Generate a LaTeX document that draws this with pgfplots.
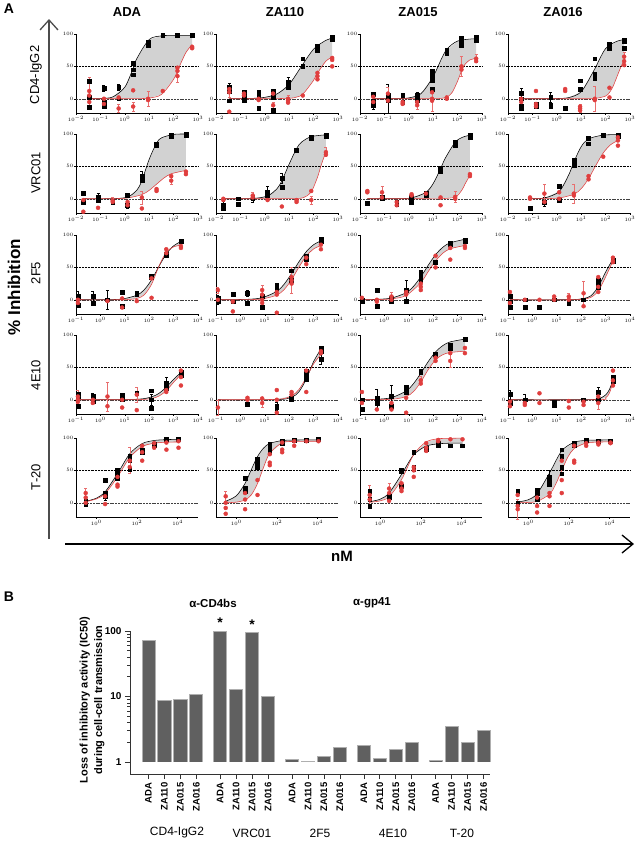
\documentclass[border=0pt]{standalone}
\usepackage{fontspec}
\setmainfont{Liberation Sans}
\usepackage{pgfplots}
\pgfplotsset{compat=1.18}
\usetikzlibrary{arrows.meta}

\definecolor{rd}{RGB}{224,62,62}
\definecolor{bargray}{RGB}{96,96,96}
\definecolor{baredge}{RGB}{175,175,175}

\pgfplotsset{
  pA/.style={scale only axis, width=122pt, height=79pt,
    ymin=-22, ymax=100, ytick={0,50,100},
    axis x line*=bottom, axis y line*=left,
    axis line style={line width=0.5pt},
    tick style={line width=0.4pt, black}, tick align=outside,
    major tick length=1.6pt, minor tick length=0.9pt,
    ticklabel style={font=\fontsize{4.5}{5}\selectfont, inner sep=1pt},
    clip=false},
  bc/.style={black, line width=0.55pt, smooth},
  rc/.style={rd, line width=0.55pt, smooth},
  sh/.style={fill=gray!35, draw=none},
  bk/.style={only marks, mark=square*, mark size=1.9pt, black,
    error bars/y dir=both, error bars/y explicit,
    error bars/error bar style={black, line width=0.45pt},
    error bars/error mark options={rotate=90, mark size=1.5pt, black, line width=0.45pt}},
  rk/.style={only marks, mark=*, mark size=2pt, rd,
    error bars/y dir=both, error bars/y explicit,
    error bars/error bar style={rd!75, line width=0.45pt},
    error bars/error mark options={rotate=90, mark size=1.5pt, rd!75, line width=0.45pt}},
  br/.style={fill=bargray, draw=baredge, line width=0.6pt},
}

% dotted line at 50, dashed line at 0
\newcommand{\reflines}{%
  \draw[black, densely dotted, line width=0.45pt] (axis description cs:0,0.5902) -- (axis description cs:1,0.5902);
  \draw[black!75, dash pattern=on 2pt off 0.8pt, line width=0.45pt] (axis description cs:0,0.1803) -- (axis description cs:1,0.1803);}

\begin{document}
\begin{tikzpicture}[x=1pt,y=-1pt]
\useasboundingbox (0,0) rectangle (637,844);

% ---------- panel A labels ----------
\node[font=\fontsize{14}{16}\selectfont\bfseries] at (9,9) {A};
\node[font=\fontsize{13}{15}\selectfont\bfseries] at (127,12) {ADA};
\node[font=\fontsize{13}{15}\selectfont\bfseries] at (285,12) {ZA110};
\node[font=\fontsize{13}{15}\selectfont\bfseries] at (418,12) {ZA015};
\node[font=\fontsize{13}{15}\selectfont\bfseries] at (563,12) {ZA016};
\node[rotate=90, font=\fontsize{13}{15}\selectfont] at (36,75) {CD4-IgG2};
\node[rotate=90, font=\fontsize{13}{15}\selectfont] at (36,173) {VRC01};
\node[rotate=90, font=\fontsize{13}{15}\selectfont] at (36,273) {2F5};
\node[rotate=90, font=\fontsize{13}{15}\selectfont] at (36,375) {4E10};
\node[rotate=90, font=\fontsize{13}{15}\selectfont] at (36,477) {T-20};
\node[rotate=90, font=\fontsize{17}{19}\selectfont\bfseries] at (14,287) {\% Inhibition};
\draw[black!70, line width=2pt, -{Straight Barb[length=10pt,width=18pt,line width=1.3pt]}] (49,539) -- (49,19);
\draw[black, line width=1.3pt, -{Straight Barb[length=11pt,width=18pt,line width=1.3pt]}] (65,544) -- (634,544);
\node[font=\fontsize{15}{17}\selectfont\bfseries] at (342,556) {nM};

% ================= row 1: CD4-IgG2 =================
\begin{axis}[pA, xmode=log, xmin=1e-2, xmax=1e3, at={(76pt,-113pt)}, anchor=south west]
\addplot[sh] coordinates {(0.035,0.02)(0.1,0.35)(0.316,2.7)(1,17.9)(2.2,47)(3.16,62.6)(10,91.5)(31.6,97.1)(100,97.9)(576,98)
  (576,84)(316,71)(178,51)(100,30)(31.6,6.6)(10,1.1)(3.16,0.2)(1,0.05)(0.035,0)};
\reflines
\addplot[bc] coordinates {(0.035,0.02)(0.1,0.35)(0.316,2.7)(1,17.9)(2.2,47)(3.16,62.6)(10,91.5)(31.6,97.1)(100,97.9)(576,98)};
\addplot[rc] coordinates {(0.035,0)(1,0.05)(3.16,0.2)(10,1.1)(31.6,6.6)(100,30)(178,51)(316,71)(576,84)};
\addplot[bk] coordinates {(0.035,27)(0.035,2)(0.035,-13)(0.14,16)+-(0,5)(0.14,-5)(0.14,-12)(0.56,18)+-(0,5)(0.56,0)(2.2,55)(2.2,45)(2.2,37)(9,87)(9,83)(36,98)(144,98)(576,98)};
\addplot[rk] coordinates {(0.035,12)+-(0,22)(0.035,5)(0.035,-5)(0.14,0)(0.14,-8)(0.56,2)(0.56,-15)+-(0,6)(2.2,13)(2.2,-12)+-(0,7)(9,0)+-(0,11)(9,-2)(36,12)(144,48)(144,35)+-(0,10)(144,43)(576,80)(576,78)};
\end{axis}

\begin{axis}[pA, xmode=log, xmin=1e-2, xmax=1e3, at={(216pt,-113pt)}, anchor=south west]
\addplot[sh] coordinates {(0.035,0.06)(0.316,0.64)(1,2.2)(3.16,7.5)(10,22.3)(31.6,49.9)(100,76.6)(316,90.2)(576,93.4)
  (576,64.2)(316,57.9)(144,39.5)(100,28.5)(36,7)(20,2.6)(10,0.77)(1,0.05)(0.035,0)};
\reflines
\addplot[bc] coordinates {(0.035,0.06)(0.316,0.64)(1,2.2)(3.16,7.5)(10,22.3)(31.6,49.9)(100,76.6)(316,90.2)(576,93.4)};
\addplot[rc] coordinates {(0.035,0)(1,0.05)(10,0.77)(20,2.6)(36,7)(100,28.5)(144,39.5)(316,57.9)(576,64.2)};
\addplot[bk] coordinates {(0.035,18)+-(0,6)(0.035,12)(0.035,-3)(0.14,10)(0.14,5)(0.14,-2)(0.56,10)(0.56,3)(0.56,-15)(2.2,12)(2.2,2)(2.2,-18)(9,25)+-(0,8)(9,18)(36,62)(36,50)(144,82)(144,75)(576,95)(576,92)};
\addplot[rk] coordinates {(0.035,15)(0.035,10)+-(0,8)(0.035,-20)(0.14,8)(0.14,5)(0.56,0)(0.56,-2)(2.2,8)(2.2,-10)+-(0,5)(9,-3)(9,-6)(9,0)+-(0,6)(36,5)(144,40)(144,35)(144,30)(576,63)(576,60)(576,50)};
\end{axis}

\begin{axis}[pA, xmode=log, xmin=1e-2, xmax=1e3, at={(360pt,-113pt)}, anchor=south west]
\addplot[sh] coordinates {(0.035,0)(0.316,0.2)(1,1.35)(3.16,7.9)(10,34.3)(31.6,73.2)(100,89.1)(576,92.8)
  (576,62.4)(316,59.9)(200,53)(144,42.9)(100,27.3)(60,9.8)(36,2.6)(20,0.5)(10,0.1)(1,0)(0.035,0)};
\reflines
\addplot[bc] coordinates {(0.035,0)(0.316,0.2)(1,1.35)(3.16,7.9)(10,34.3)(31.6,73.2)(100,89.1)(576,92.8)};
\addplot[rc] coordinates {(0.035,0)(1,0)(10,0.1)(20,0.5)(36,2.6)(60,9.8)(100,27.3)(144,42.9)(200,53)(316,59.9)(576,62.4)};
\addplot[bk] coordinates {(0.035,7)(0.035,-3)(0.035,-10)+-(0,6)(0.14,5)(0.14,-2)(0.14,0)+-(0,22)(0.56,5)(0.56,-5)(2.2,5)+-(0,5)(2.2,-3)(2.2,0)(9,42)(9,35)(9,28)(9,15)(36,75)(36,70)(144,93)(144,83)(144,90)(576,95)(576,90)};
\addplot[rk] coordinates {(0.035,3)(0.035,-5)(0.14,8)+-(0,10)(0.14,-3)(0.56,-5)(0.56,-8)(2.2,-5)(2.2,-10)+-(0,6)(9,10)(9,0)(9,-3)+-(0,17)(36,2)(36,0)(144,50)+-(0,15)(144,45)(576,62)+-(0,6)(576,58)};
\end{axis}

\begin{axis}[pA, xmode=log, xmin=1e-2, xmax=1e3, at={(508pt,-113pt)}, anchor=south west]
\addplot[sh] coordinates {(0.035,0)(0.316,0.04)(1,0.3)(3.16,1.9)(10,10.9)(31.6,42.2)(100,77.6)(316,89.3)(576,91)
  (576,58.5)(450,51.4)(316,37.3)(200,18.6)(144,9.7)(100,4.2)(36,0.35)(10,0.03)(0.035,0)};
\reflines
\addplot[bc] coordinates {(0.035,0)(0.316,0.04)(1,0.3)(3.16,1.9)(10,10.9)(31.6,42.2)(100,77.6)(316,89.3)(576,91)};
\addplot[rc] coordinates {(0.035,0)(10,0.03)(36,0.35)(100,4.2)(144,9.7)(200,18.6)(316,37.3)(450,51.4)(576,58.5)};
\addplot[bk] coordinates {(0.035,8)+-(0,8)(0.035,0)(0.035,-12)(0.035,-15)(0.14,-8)(0.14,-12)(0.14,-10)(0.56,2)+-(0,8)(0.56,-10)(0.56,-12)(2.2,-14)(9,28)(9,15)(36,62)(36,38)(36,32)(144,85)(144,80)(144,78)(576,90)(576,88)(576,78)};
\addplot[rk] coordinates {(0.035,0)(0.035,-5)(0.14,12)(0.14,-8)(0.14,-12)(2.2,15)(2.2,12)(9,-12)(9,-15)+-(0,6)(9,-18)(36,0)+-(0,20)(36,-2)(144,17)(144,2)(576,65)+-(0,7)(576,58)(576,52)};
\end{axis}

% ================= row 2: VRC01 =================
\begin{axis}[pA, xmode=log, xmin=1e-2, xmax=1e3, at={(76pt,-213pt)}, anchor=south west]
\addplot[sh] coordinates {(0.02,0)(0.32,0.16)(1.3,2.6)(3.16,13.5)(5,28)(10,61)(20,86)(31.6,94)(100,99.4)(320,100)
  (320,43.8)(80,38.6)(40,32)(20,22.5)(10,13)(5,6.4)(1.3,1.25)(0.32,0.2)(0.02,0)};
\reflines
\addplot[bc] coordinates {(0.02,0)(0.32,0.16)(1.3,2.6)(3.16,13.5)(5,28)(10,61)(20,86)(31.6,94)(100,99.4)(320,100)};
\addplot[rc] coordinates {(0.02,0)(0.32,0.2)(1.3,1.25)(5,6.4)(10,13)(20,22.5)(40,32)(80,38.6)(320,43.8)};
\addplot[bk] coordinates {(0.02,8)(0.02,-5)(0.08,3)+-(0,5)(0.08,-2)(0.08,0)(0.32,-3)(0.32,-5)(1.3,5)(1.3,-10)+-(0,5)(5,35)+-(0,8)(5,28)(20,85)(20,82)(80,98)(80,97)(320,100)(320,98)};
\addplot[rk] coordinates {(0.02,-2)(0.02,-20)(0.08,-14)(0.32,-3)+-(0,6)(0.32,-5)(1.3,-5)(1.3,-10)(5,2)+-(0,10)(5,-15)(20,15)(20,12)(80,35)(80,28)+-(0,6)(320,42)(320,38)};
\end{axis}

\begin{axis}[pA, xmode=log, xmin=1e-2, xmax=1e3, at={(216pt,-213pt)}, anchor=south west]
\addplot[sh] coordinates {(0.02,0)(0.32,0.5)(1.3,4.3)(3.16,15.6)(5,27.8)(10,53.7)(20,77.4)(31.6,87.3)(80,96)(320,98.7)
  (320,72.8)(200,50.9)(150,34.9)(80,10.5)(40,2)(20,0.37)(5,0.05)(0.02,0)};
\reflines
\addplot[bc] coordinates {(0.02,0)(0.32,0.5)(1.3,4.3)(3.16,15.6)(5,27.8)(10,53.7)(20,77.4)(31.6,87.3)(80,96)(320,98.7)};
\addplot[rc] coordinates {(0.02,0)(5,0.05)(20,0.37)(40,2)(80,10.5)(150,34.9)(200,50.9)(320,72.8)};
\addplot[bk] coordinates {(0.02,-10)+-(0,6)(0.02,-15)(0.08,0)(0.08,-9)(0.32,3)(0.32,0)+-(0,6)(1.3,10)+-(0,10)(1.3,5)(5,32)+-(0,8)(5,18)(20,75)(80,95)(80,93)(320,98)(320,97)};
\addplot[rk] coordinates {(0.02,0)(0.02,-2)(0.32,5)+-(0,5)(0.32,2)(1.3,-2)(5,-12)(20,-2)(20,-5)(80,12)(80,-2)+-(0,6)(320,72)+-(0,7)(320,68)};
\end{axis}

\begin{axis}[pA, xmode=log, xmin=1e-2, xmax=1e3, at={(360pt,-213pt)}, anchor=south west]
\addplot[sh] coordinates {(0.02,0)(0.32,0.17)(1.3,1.4)(5,9.8)(10,23.5)(20,46.5)(31.6,63)(80,87.4)(160,95)(320,98.2)
  (320,36.2)(200,22.5)(150,13.4)(80,2.7)(20,0.05)(5,0)(0.02,0)};
\reflines
\addplot[bc] coordinates {(0.02,0)(0.32,0.17)(1.3,1.4)(5,9.8)(10,23.5)(20,46.5)(31.6,63)(80,87.4)(160,95)(320,98.2)};
\addplot[rc] coordinates {(0.02,0)(5,0)(20,0.05)(80,2.7)(150,13.4)(200,22.5)(320,36.2)};
\addplot[bk] coordinates {(0.02,-7)(0.08,2)(0.08,0)(0.32,-5)(0.32,-8)(1.3,3)(1.3,-5)(5,8)(5,5)(20,48)(20,42)(80,88)(80,82)(320,98)(320,95)};
\addplot[rk] coordinates {(0.02,12)(0.02,10)(0.08,10)+-(0,10)(0.08,2)(0.32,-5)(0.32,-10)(1.3,7)(1.3,5)(5,8)(20,2)(20,-10)(80,3)+-(0,8)(80,0)(320,38)(320,35)};
\end{axis}

\begin{axis}[pA, xmode=log, xmin=1e-2, xmax=1e3, at={(508pt,-213pt)}, anchor=south west]
\addplot[sh] coordinates {(0.08,0.1)(0.31,1.2)(1.25,11.2)(3.16,37.8)(5,56.8)(10,80.5)(20,92.5)(80,98.3)(320,99)
  (320,90)(160,83.4)(80,70.8)(40,51.6)(20,31)(10,15.6)(5,7)(1.25,1.2)(0.31,0.2)(0.08,0)};
\reflines
\addplot[bc] coordinates {(0.08,0.1)(0.31,1.2)(1.25,11.2)(3.16,37.8)(5,56.8)(10,80.5)(20,92.5)(80,98.3)(320,99)};
\addplot[rc] coordinates {(0.08,0)(0.31,0.2)(1.25,1.2)(5,7)(10,15.6)(20,31)(40,51.6)(80,70.8)(160,83.4)(320,90)};
\addplot[bk] coordinates {(0.08,-15)(0.31,-5)+-(0,7)(1.25,20)(1.25,-2)(5,60)(5,52)(20,93)(20,85)(80,98)(320,98)(320,97)};
\addplot[rk] coordinates {(0.08,0)(0.08,2)(0.31,8)+-(0,14)(0.31,-5)(1.25,10)(1.25,0)(5,8)+-(0,15)(5,5)(20,35)(20,30)(80,65)(320,95)(320,90)(320,82)};
\end{axis}

% ================= row 3: 2F5 =================
\begin{axis}[pA, xmode=log, xmin=1e-1, xmax=1e4, at={(76pt,-314pt)}, anchor=south west]
\addplot[sh] coordinates {(0.12,0)(1.95,0.2)(7.8,1.2)(31,6.9)(62,15.3)(125,30.7)(250,51.4)(500,70.7)(1000,83.3)(2000,89.9)
  (2000,84.2)(1000,81.7)(500,73.3)(250,51.8)(125,23.9)(62,7.5)(31,2)(7.8,0.1)(0.12,0)};
\reflines
\addplot[bc] coordinates {(0.12,0)(1.95,0.2)(7.8,1.2)(31,6.9)(62,15.3)(125,30.7)(250,51.4)(500,70.7)(1000,83.3)(2000,89.9)};
\addplot[rc] coordinates {(0.12,0)(7.8,0.1)(31,2)(62,7.5)(125,23.9)(250,51.8)(500,73.3)(1000,81.7)(2000,84.2)};
\addplot[bk] coordinates {(0.12,5)+-(0,8)(0.12,-8)(0.49,5)+-(0,8)(0.49,-5)(1.95,0)+-(0,15)(7.8,12)(7.8,-10)(31,10)(31,8)(125,35)(125,37)(500,70)(500,68)(2000,90)};
\addplot[rk] coordinates {(0.12,0)(0.12,-5)(1.95,-2)(7.8,2)(7.8,-12)(31,-2)(125,33)(125,3)(500,78)(500,72)(2000,83)(2000,80)};
\end{axis}

\begin{axis}[pA, xmode=log, xmin=1e-1, xmax=1e4, at={(216pt,-314pt)}, anchor=south west]
\addplot[sh] coordinates {(0.12,0)(1.95,0.7)(7.8,3.2)(31,12.9)(62,24)(125,40.4)(250,58.6)(500,74.3)(1000,85)(2000,91)
  (2000,83.8)(1000,78.4)(500,67.5)(250,50.3)(125,31)(62,15.7)(31,7.2)(7.8,1.3)(1.95,0.2)(0.12,0)};
\reflines
\addplot[bc] coordinates {(0.12,0)(1.95,0.7)(7.8,3.2)(31,12.9)(62,24)(125,40.4)(250,58.6)(500,74.3)(1000,85)(2000,91)};
\addplot[rc] coordinates {(0.12,0)(1.95,0.2)(7.8,1.3)(31,7.2)(62,15.7)(125,31)(250,50.3)(500,67.5)(1000,78.4)(2000,83.8)};
\addplot[bk] coordinates {(0.12,3)(0.12,0)+-(0,7)(0.12,-2)(0.49,8)(0.49,-3)(1.95,10)+-(0,5)(1.95,-5)(7.8,5)(7.8,-12)(31,22)(31,18)(125,45)(125,30)(500,68)(500,62)(2000,93)(2000,90)};
\addplot[rk] coordinates {(0.12,15)+-(0,5)(0.12,0)(0.49,-3)(0.49,-18)(7.8,15)+-(0,8)(7.8,8)(7.8,0)(7.8,-5)(31,12)(31,8)(31,-20)(125,35)(125,30)+-(0,20)(125,25)(500,65)(500,55)(2000,85)(2000,78)};
\end{axis}

\begin{axis}[pA, xmode=log, xmin=1e-1, xmax=1e4, at={(360pt,-314pt)}, anchor=south west]
\addplot[sh] coordinates {(0.12,0.05)(0.49,0.6)(1.95,2.6)(7.8,10.9)(15.6,20.7)(31,35.3)(62,53.1)(125,69.6)(250,81.2)(500,88)(2000,93.4)
  (2000,83.8)(500,78.8)(250,72)(125,60)(62,43.3)(31,26.5)(7.8,6.7)(1.95,1.4)(0.49,0.27)(0.12,0)};
\reflines
\addplot[bc] coordinates {(0.12,0.05)(0.49,0.6)(1.95,2.6)(7.8,10.9)(15.6,20.7)(31,35.3)(62,53.1)(125,69.6)(250,81.2)(500,88)(2000,93.4)};
\addplot[rc] coordinates {(0.12,0)(0.49,0.27)(1.95,1.4)(7.8,6.7)(31,26.5)(62,43.3)(125,60)(250,72)(500,78.8)(2000,83.8)};
\addplot[bk] coordinates {(0.12,0)(0.12,-3)(0.49,15)(0.49,-10)(1.95,2)(1.95,-3)(7.8,15)+-(0,15)(7.8,-2)(31,42)(31,38)(31,30)(125,58)(500,88)(500,85)(2000,92)(2000,90)};
\addplot[rk] coordinates {(0.12,3)(0.49,0)(0.49,-3)(1.95,5)+-(0,6)(1.95,0)(7.8,12)(7.8,8)(31,25)(31,20)(31,15)(125,68)(125,50)(500,80)(500,62)(2000,83)(2000,80)};
\end{axis}

\begin{axis}[pA, xmode=log, xmin=1e-1, xmax=1e4, at={(508pt,-314pt)}, anchor=south west]
\addplot[sh] coordinates {(0.12,0)(31,0.1)(125,1.9)(250,6.2)(500,20)(1000,42.7)(2000,63)
  (2000,59.9)(1000,35.3)(500,13.4)(250,3.8)(125,1)(31,0)(0.12,0)};
\reflines
\addplot[bc] coordinates {(0.12,0)(31,0.1)(125,1.9)(250,6.2)(500,20)(1000,42.7)(2000,63)};
\addplot[rc] coordinates {(0.12,0)(31,0)(125,1)(250,3.8)(500,13.4)(1000,35.3)(2000,59.9)};
\addplot[bk] coordinates {(0.12,5)(0.12,-3)(0.12,-12)(0.49,0)(0.49,-12)(1.95,-12)(7.8,0)(31,-3)(31,-5)(125,0)(500,30)(500,25)(500,20)(2000,62)(2000,60)};
\addplot[rk] coordinates {(0.12,12)(0.12,-5)(0.49,0)(1.95,0)(7.8,5)(7.8,0)(31,5)+-(0,5)(31,0)(125,10)+-(0,18)(125,-10)(500,35)(500,20)(500,12)(2000,65)(2000,60)(2000,58)};
\end{axis}

% ================= row 4: 4E10 =================
\begin{axis}[pA, xmode=log, xmin=1e-1, xmax=1e4, at={(76pt,-414pt)}, anchor=south west]
\addplot[sh] coordinates {(0.12,0)(31,0.8)(125,4.5)(250,9.9)(500,19.4)(1000,31.5)(2000,42.2)
  (2000,39)(1000,27)(500,14)(250,5.7)(125,2)(31,0.2)(0.12,0)};
\reflines
\addplot[bc] coordinates {(0.12,0)(31,0.8)(125,4.5)(250,9.9)(500,19.4)(1000,31.5)(2000,42.2)};
\addplot[rc] coordinates {(0.12,0)(31,0.2)(125,2)(250,5.7)(500,14)(1000,27)(2000,39)};
\addplot[bk] coordinates {(0.12,8)(0.12,5)(0.12,-10)(0.49,5)+-(0,5)(0.49,-3)(7.8,7)(7.8,0)(31,10)(125,14)(125,0)+-(0,8)(125,-13)(500,25)+-(0,10)(500,18)(2000,42)(2000,38)};
\addplot[rk] coordinates {(0.12,5)+-(0,10)(0.12,0)(0.12,-3)(0.49,0)(0.49,-5)(1.95,5)+-(0,22)(1.95,-10)(7.8,0)(7.8,-12)(31,8)+-(0,12)(31,-16)(500,15)(500,12)(2000,45)(2000,35)(2000,22)};
\end{axis}

\begin{axis}[pA, xmode=log, xmin=1e-1, xmax=1e4, at={(216pt,-414pt)}, anchor=south west]
\addplot[sh] coordinates {(0.12,0)(31,0.1)(125,3.9)(250,12.2)(500,31.8)(1000,59)(2000,78.2)
  (2000,69.8)(1000,55.5)(500,34.2)(250,15.8)(125,6)(31,0.7)(0.12,0)};
\reflines
\addplot[bc] coordinates {(0.12,0)(31,0.1)(125,3.9)(250,12.2)(500,31.8)(1000,59)(2000,78.2)};
\addplot[rc] coordinates {(0.12,0)(31,0.7)(125,6)(250,15.8)(500,34.2)(1000,55.5)(2000,69.8)};
\addplot[bk] coordinates {(1.95,-7)(31,-10)+-(0,6)(31,-12)(125,2)(125,0)(500,45)(500,40)(500,32)(2000,80)(2000,75)(2000,63)+-(0,8)};
\addplot[rk] coordinates {(0.12,-12)+-(0,12)(1.95,3)(1.95,0)(7.8,2)(7.8,-5)+-(0,6)(31,15)(31,0)(31,-20)(125,12)(125,8)(500,45)(500,12)(2000,75)(2000,72)};
\end{axis}

\begin{axis}[pA, xmode=log, xmin=1e-1, xmax=1e4, at={(360pt,-414pt)}, anchor=south west]
\addplot[sh] coordinates {(0.12,0.1)(0.49,0.7)(1.95,3.3)(7.8,13.5)(15.6,24.9)(31,40.9)(62,58.8)(125,73.9)(250,83.8)(500,89.4)(2000,93.7)
  (2000,75)(500,73)(250,69.7)(125,61.7)(62,46.3)(31,27.3)(15.6,12.7)(7.8,5)(1.95,0.7)(0.12,0)};
\reflines
\addplot[bc] coordinates {(0.12,0.1)(0.49,0.7)(1.95,3.3)(7.8,13.5)(15.6,24.9)(31,40.9)(62,58.8)(125,73.9)(250,83.8)(500,89.4)(2000,93.7)};
\addplot[rc] coordinates {(0.12,0)(1.95,0.7)(7.8,5)(15.6,12.7)(31,27.3)(62,46.3)(125,61.7)(250,69.7)(500,73)(2000,75)};
\addplot[bk] coordinates {(0.12,0)(0.12,-15)(0.49,2)+-(0,15)(0.49,-5)(1.95,5)+-(0,18)(1.95,-10)(7.8,20)(7.8,12)(31,45)(31,42)(125,70)(500,85)(500,80)(2000,93)};
\addplot[rk] coordinates {(0.12,12)(0.12,-5)(0.49,-15)(1.95,-5)(1.95,-15)(7.8,3)(7.8,-20)(31,30)+-(0,6)(31,25)(125,65)(125,60)(500,72)(500,60)+-(0,10)(2000,80)(2000,72)};
\end{axis}

\begin{axis}[pA, xmode=log, xmin=1e-1, xmax=1e4, at={(508pt,-414pt)}, anchor=south west]
\addplot[sh] coordinates {(0.12,0)(125,0.1)(500,1.4)(1000,7.4)(1400,15.2)(2000,29.1)
  (2000,29)(1700,18.4)(1400,9.6)(1000,2.8)(500,0.1)(0.12,0)};
\reflines
\addplot[bc] coordinates {(0.12,0)(125,0.1)(500,1.4)(1000,7.4)(1400,15.2)(2000,29.1)};
\addplot[rc] coordinates {(0.12,0)(500,0.1)(1000,2.8)(1400,9.6)(1700,18.4)(2000,29)};
\addplot[bk] coordinates {(0.12,8)+-(0,7)(0.12,-5)(0.49,0)+-(0,8)(7.8,-3)(7.8,-8)(125,0)(500,12)+-(0,8)(500,0)(2000,35)(2000,28)};
\addplot[rk] coordinates {(0.12,-3)(0.12,-10)(0.49,-5)(0.49,-8)(1.95,10)(1.95,-5)(31,-2)(31,-12)(125,-3)(125,-8)(500,5)(500,-5)+-(0,10)(2000,45)(2000,30)(2000,22)};
\end{axis}

% ================= row 5: T-20 =================
\begin{axis}[pA, xmode=log, xmin=1e-1, xmax=1e5, at={(76pt,-517pt)}, anchor=south west]
\addplot[sh] coordinates {(0.3,2.2)(1,7)(2.7,16.9)(11,45)(44,75.7)(180,91.4)(700,96.2)(2800,97.5)(11000,98)
  (11000,93.9)(2800,93.5)(700,92)(180,86.8)(44,70.1)(11,39.8)(2.7,14.3)(1,5.9)(0.3,1.8)};
\reflines
\addplot[bc] coordinates {(0.3,2.2)(1,7)(2.7,16.9)(11,45)(44,75.7)(180,91.4)(700,96.2)(2800,97.5)(11000,98)};
\addplot[rc] coordinates {(0.3,1.8)(1,5.9)(2.7,14.3)(11,39.8)(44,70.1)(180,86.8)(700,92)(2800,93.5)(11000,93.9)};
\addplot[bk] coordinates {(0.3,3)(0.3,0)(0.3,-2)(2.7,35)(2.7,15)(2.7,10)+-(0,6)(11,50)(11,45)(11,38)(44,72)(44,65)(44,52)(180,82)(180,78)(700,90)(700,88)(2800,98)(11000,98)};
\addplot[rk] coordinates {(0.3,15)+-(0,7)(0.3,8)(0.3,0)(2.7,10)(2.7,-2)(11,40)(11,28)(11,25)(44,65)+-(0,20)(44,55)(180,88)(180,78)(180,65)(700,92)(700,85)(2800,93)(2800,82)(11000,95)(11000,85)};
\end{axis}

\begin{axis}[pA, xmode=log, xmin=1e-1, xmax=1e5, at={(216pt,-517pt)}, anchor=south west]
\addplot[sh] coordinates {(0.3,2.4)(1,10.7)(2.7,30)(5.5,51.5)(11,71.4)(22,84.6)(44,91.6)(180,96.1)(700,96.9)(11000,97)
  (11000,95)(700,94.7)(180,92.7)(44,76.6)(22,55)(11,29.7)(5.5,12.4)(2.7,4.4)(1,0.9)(0.3,0.14)};
\reflines
\addplot[bc] coordinates {(0.3,2.4)(1,10.7)(2.7,30)(5.5,51.5)(11,71.4)(22,84.6)(44,91.6)(180,96.1)(700,96.9)(11000,97)};
\addplot[rc] coordinates {(0.3,0.14)(1,0.9)(2.7,4.4)(5.5,12.4)(11,29.7)(22,55)(44,76.6)(180,92.7)(700,94.7)(11000,95)};
\addplot[bk] coordinates {(2.7,38)(2.7,22)(2.7,18)(11,68)(11,62)+-(0,8)(11,55)(44,90)(44,85)(44,78)(180,95)(180,92)(700,97)(2800,97)(11000,98)};
\addplot[rk] coordinates {(0.3,10)+-(0,8)(0.3,0)(0.3,-8)(0.3,-17)(2.7,15)(2.7,5)(2.7,-10)(11,35)(11,12)(44,75)(44,62)(44,58)(180,93)(180,82)(180,78)(700,95)(700,88)(2800,95)(11000,95)};
\end{axis}

\begin{axis}[pA, xmode=log, xmin=1e-1, xmax=1e5, at={(360pt,-517pt)}, anchor=south west]
\addplot[sh] coordinates {(0.3,1.6)(1,5.6)(2.7,14.9)(11,43.8)(44,74.2)(180,87.5)(700,91)(2800,92)(11000,92)
  (11000,99.8)(2800,99.5)(700,98.8)(180,94)(44,74.5)(11,35.6)(2.7,9.3)(1,3)(0.3,0.7)};
\reflines
\addplot[bc] coordinates {(0.3,1.6)(1,5.6)(2.7,14.9)(11,43.8)(44,74.2)(180,87.5)(700,91)(2800,92)(11000,92)};
\addplot[rc] coordinates {(0.3,0.7)(1,3)(2.7,9.3)(11,35.6)(44,74.5)(180,94)(700,98.8)(2800,99.5)(11000,99.8)};
\addplot[bk] coordinates {(0.3,18)(0.3,5)(0.3,-5)(2.7,10)(2.7,8)(11,50)(11,48)(11,25)(44,78)(44,55)(44,52)(180,85)(180,82)(700,92)(700,88)(2800,88)(11000,88)};
\addplot[rk] coordinates {(0.3,12)+-(0,15)(0.3,5)(2.7,22)+-(0,8)(2.7,15)(2.7,3)(11,30)(11,22)(11,18)(44,55)(44,50)(44,40)(180,92)(180,85)(180,80)(700,97)(700,95)(2800,98)(11000,98)};
\end{axis}

\begin{axis}[pA, xmode=log, xmin=1e-1, xmax=1e5, at={(508pt,-517pt)}, anchor=south west]
\addplot[sh] coordinates {(0.3,1.1)(1,4.7)(2.7,13.9)(11,46)(44,80.2)(180,93.4)(700,96.3)(2800,96.9)(11000,97)
  (11000,94)(2800,93.7)(700,92.3)(180,83.8)(90,71.2)(44,50.1)(22,28.4)(11,13.2)(2.7,2.1)(1,0.5)(0.3,0.1)};
\reflines
\addplot[bc] coordinates {(0.3,1.1)(1,4.7)(2.7,13.9)(11,46)(44,80.2)(180,93.4)(700,96.3)(2800,96.9)(11000,97)};
\addplot[rc] coordinates {(0.3,0.1)(1,0.5)(2.7,2.1)(11,13.2)(22,28.4)(44,50.1)(90,71.2)(180,83.8)(700,92.3)(2800,93.7)(11000,94)};
\addplot[bk] coordinates {(0.3,18)(0.3,0)(0.3,-3)(2.7,20)(2.7,15)(2.7,5)(11,40)+-(0,10)(11,35)(11,28)(44,82)(44,72)(44,55)(44,45)(180,92)(180,88)(700,97)(2800,95)(11000,95)};
\addplot[rk] coordinates {(0.3,12)(0.3,-5)(0.3,-10)+-(0,15)(2.7,8)(2.7,-5)(2.7,-15)(11,15)(11,10)(11,-5)(44,65)(44,35)(44,15)(180,88)(180,65)(180,62)(700,92)(700,88)(2800,93)(2800,90)(11000,93)(11000,92)};
\end{axis}

% ================= panel B =================
\node[font=\fontsize{14}{16}\selectfont\bfseries] at (9,597) {B};
\node[font=\fontsize{11.5}{13}\selectfont\bfseries] at (213,603) {α-CD4bs};
\node[font=\fontsize{11.5}{13}\selectfont\bfseries] at (372,603) {α-gp41};
\node[rotate=90, align=center, font=\fontsize{11}{14.5}\selectfont\bfseries] at (92,700) {Loss of inhibitory activity (IC50)\\during cell-cell transmission};

% y values here are log10 of the fold loss (0 = 1, 1 = 10, 2 = 100)
\begin{axis}[scale only axis,
    width=360pt, height=143pt,
    ymin=-0.183, ymax=2, xmin=-1.15, xmax=21.4,
    axis x line*=bottom, axis y line*=left,
    axis line style={line width=0.7pt, black!80},
    tick style={line width=0.7pt, black!80}, tick align=outside,
    major tick length=5pt, minor tick length=2.5pt,
    ytick={0,1,2}, yticklabels={1,10,100},
    minor ytick={0.301,0.477,0.602,0.699,0.778,0.845,0.903,0.954,1.301,1.477,1.602,1.699,1.778,1.845,1.903,1.954},
    xtick={0,1,2,3,4.5,5.5,6.5,7.5,9,10,11,12,13.5,14.5,15.5,16.5,18,19,20,21},
    xticklabels={ADA,ZA110,ZA015,ZA016,ADA,ZA110,ZA015,ZA016,ADA,ZA110,ZA015,ZA016,ADA,ZA110,ZA015,ZA016,ADA,ZA110,ZA015,ZA016},
    xticklabel style={rotate=90, anchor=east, font=\fontsize{9.5}{11}\selectfont\bfseries},
    yticklabel style={font=\fontsize{10}{12}\selectfont\bfseries},
    clip=false,
    at={(130pt,-774pt)}, anchor=south west]
\addplot[br] coordinates {(-0.41,0)(-0.41,1.863)(0.41,1.863)(0.41,0)};
\addplot[br] coordinates {(0.59,0)(0.59,0.940)(1.41,0.940)(1.41,0)};
\addplot[br] coordinates {(1.59,0)(1.59,0.964)(2.41,0.964)(2.41,0)};
\addplot[br] coordinates {(2.59,0)(2.59,1.041)(3.41,1.041)(3.41,0)};
\addplot[br] coordinates {(4.09,0)(4.09,2.0)(4.91,2.0)(4.91,0)};
\addplot[br] coordinates {(5.09,0)(5.09,1.114)(5.91,1.114)(5.91,0)};
\addplot[br] coordinates {(6.09,0)(6.09,1.978)(6.91,1.978)(6.91,0)};
\addplot[br] coordinates {(7.09,0)(7.09,1.0)(7.91,1.0)(7.91,0)};
\addplot[br] coordinates {(8.59,0)(8.59,0.041)(9.41,0.041)(9.41,0)};
\addplot[br] coordinates {(9.59,0)(9.59,0.013)(10.41,0.013)(10.41,0)};
\addplot[br] coordinates {(10.59,0)(10.59,0.090)(11.41,0.090)(11.41,0)};
\addplot[br] coordinates {(11.59,0)(11.59,0.230)(12.41,0.230)(12.41,0)};
\addplot[br] coordinates {(13.09,0)(13.09,0.255)(13.91,0.255)(13.91,0)};
\addplot[br] coordinates {(14.09,0)(14.09,0.061)(14.91,0.061)(14.91,0)};
\addplot[br] coordinates {(15.09,0)(15.09,0.199)(15.91,0.199)(15.91,0)};
\addplot[br] coordinates {(16.09,0)(16.09,0.301)(16.91,0.301)(16.91,0)};
\addplot[br] coordinates {(17.59,0)(17.59,0.029)(18.41,0.029)(18.41,0)};
\addplot[br] coordinates {(18.59,0)(18.59,0.544)(19.41,0.544)(19.41,0)};
\addplot[br] coordinates {(19.59,0)(19.59,0.301)(20.41,0.301)(20.41,0)};
\addplot[br] coordinates {(20.59,0)(20.59,0.491)(21.41,0.491)(21.41,0)};
\end{axis}
\node[font=\fontsize{14}{16}\selectfont\bfseries] at (220,623) {*};
\node[font=\fontsize{14}{16}\selectfont\bfseries] at (252,625) {*};
\node[font=\fontsize{12}{14}\selectfont] at (177,833) {CD4-IgG2};
\node[font=\fontsize{12}{14}\selectfont] at (252,833) {VRC01};
\node[font=\fontsize{12}{14}\selectfont] at (320,833) {2F5};
\node[font=\fontsize{12}{14}\selectfont] at (393,833) {4E10};
\node[font=\fontsize{12}{14}\selectfont] at (462,833) {T-20};
\end{tikzpicture}
\end{document}
